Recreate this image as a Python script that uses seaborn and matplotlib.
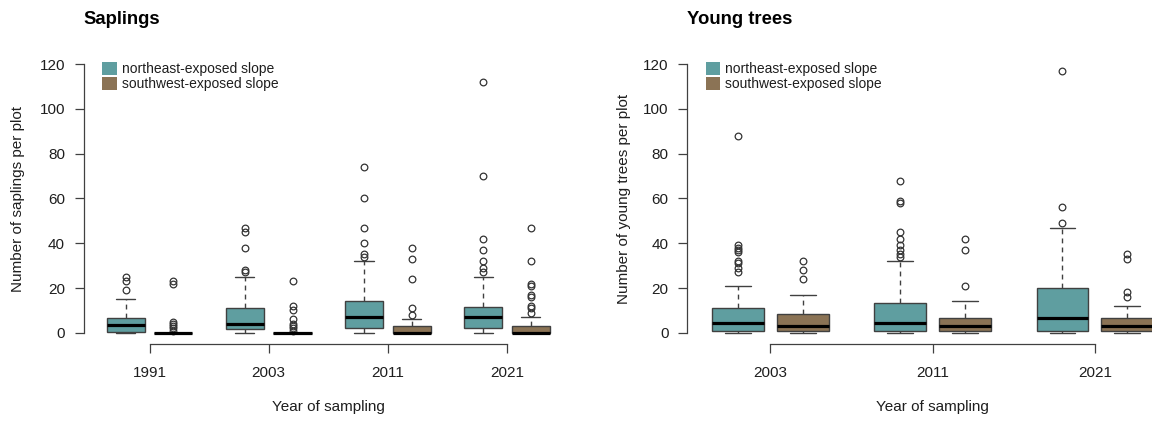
import matplotlib
matplotlib.use("Agg")
import matplotlib.pyplot as plt
import seaborn as sns
import pandas as pd
from matplotlib.patches import Patch

# ---------------- data ----------------
slopes = ["northeast-exposed slope", "southwest-exposed slope"]
slope_colors = ["#5F9EA0", "#8B7355"]

# Saplings: order NE1991, SW1991, NE2003, SW2003, NE2011, SW2011, NE2021, SW2021
sap_years = ["1991", "2003", "2011", "2021"]
sap_lo = [0, 0, 0, 0, 0, 0, 0, 0]
sap_q1 = [0.5, 0, 1.5, 0, 2, 0, 2, 0]
sap_med = [3.5, 0, 4, 0, 7, 0, 7, 0]
sap_q3 = [6.5, 0, 11, 0, 14, 3, 11.5, 3]
sap_hi = [15, 0, 25, 0, 32, 6, 25, 7]
sap_out = [
    [19, 23, 25],
    [1, 2, 3, 4, 5, 22, 23],
    [27, 28, 38, 45, 47],
    [1, 2, 3, 4, 6, 10, 12, 23],
    [34, 35, 40, 47, 60, 74],
    [8, 11, 24, 33, 38],
    [27, 29, 32, 37, 42, 70, 112],
    [9, 11, 12, 16, 17, 21, 22, 32, 47],
]

# Young trees: order NE2003, SW2003, NE2011, SW2011, NE2021, SW2021
yt_years = ["2003", "2011", "2021"]
yt_lo = [0, 0, 0, 0, 0, 0]
yt_q1 = [1, 1, 1, 1, 1, 1]
yt_med = [4.5, 3, 4.5, 3, 6.5, 3]
yt_q3 = [11.25, 8.5, 13.5, 6.5, 20, 6.5]
yt_hi = [21, 17, 32, 14, 47, 12]
yt_out = [
    [27, 29, 31, 32, 36, 37, 38, 39, 88],
    [24, 28, 32],
    [34, 35, 37, 39, 42, 45, 58, 59, 68],
    [21, 37, 42],
    [49, 56, 117],
    [16, 18, 33, 35],
]


def build_frame(years, lo, q1, med, q3, hi, out):
    """Sample values reproducing the read box statistics."""
    rows = []
    for k in range(len(lo)):
        g, s = divmod(k, 2)
        pos = 1 + 2.5 * g + s
        m = 1 + len(out[k])
        vals = [lo[k]] + [q1[k]] * m + [med[k]] * m + [q3[k]] * m + [hi[k]] + sorted(out[k])
        for v in vals:
            rows.append({"pos": pos, "count": v, "slope": slopes[s]})
    ticks = [1.5 + 2.5 * g for g in range(len(years))]
    return pd.DataFrame(rows), ticks


sap_df, sap_ticks = build_frame(sap_years, sap_lo, sap_q1, sap_med, sap_q3, sap_hi, sap_out)
yt_df, yt_ticks = build_frame(yt_years, yt_lo, yt_q1, yt_med, yt_q3, yt_hi, yt_out)

# ---------------- style ----------------
sns.set_style("ticks")
plt.rcParams["font.family"] = ["Liberation Sans", "DejaVu Sans"]

W, H = 1152, 423
fig = plt.figure(figsize=(W / 100, H / 100), dpi=100)


def axes_px(left, top, width, height):
    return fig.add_axes([left / W, 1 - (top + height) / H, width / W, height / H])


edge = "#404040"
txt = "#1e1e1e"

ax1 = axes_px(83.8, 53.5, 488.9, 290)
ax2 = axes_px(687.4, 53.5, 490.6, 290)

panels = [
    (ax1, sap_df, sap_ticks, sap_years, (0.12, 10.38), "Saplings",
     "Number of saplings per plot", 18),
    (ax2, yt_df, yt_ticks, yt_years, (0.22, 7.78), "Young trees",
     "Number of young trees per plot", 624),
]

for ax, df, ticks, years, xlim, title, ylabel, ylab_x in panels:
    sns.boxplot(
        data=df, x="pos", y="count", hue="slope", hue_order=slopes,
        palette=slope_colors, saturation=1, native_scale=True, dodge=False,
        width=0.8, whis=1.5, linecolor=edge, linewidth=1.0, legend=False,
        fliersize=4.8, ax=ax,
        flierprops={"marker": "o", "markerfacecolor": "none",
                    "markeredgecolor": "#333333", "markeredgewidth": 0.9},
        whiskerprops={"linestyle": (0, (3.5, 3)), "color": edge},
        medianprops={"color": "black", "linewidth": 2.3},
        capprops={"color": edge},
    )
    ax.set_xlim(*xlim)
    ax.set_ylim(-4.8, 124.8)
    ax.set_xticks(ticks)
    ax.set_xticklabels(years)
    ax.set_yticks(range(0, 121, 20))
    ax.set_xlabel("")
    ax.set_ylabel("")
    for sp in ("top", "right"):
        ax.spines[sp].set_visible(False)
    for sp in ("left", "bottom"):
        ax.spines[sp].set_color(edge)
        ax.spines[sp].set_linewidth(0.9)
    ax.spines["bottom"].set_bounds(ticks[0], ticks[-1])
    ax.spines["left"].set_bounds(0, 120)
    ax.tick_params(axis="both", which="major", bottom=True, left=True,
                   top=False, right=False, direction="out",
                   length=6.5, width=0.9, color=edge,
                   labelsize=11, labelcolor=txt, pad=7)
    ax.tick_params(axis="x", pad=9.5)
    ax.grid(False)

    handles = [Patch(facecolor=c, edgecolor="none", label=l)
               for c, l in zip(slope_colors, slopes)]
    ax.legend(handles=handles, loc="upper left", bbox_to_anchor=(0.038, 0.97),
              frameon=False, fontsize=10, handlelength=1.04, handleheight=1.04,
              handletextpad=0.36, labelspacing=0.05, borderpad=0,
              borderaxespad=0, labelcolor=txt)

    # titles and axis labels
    bb = ax.get_position()
    fig.text(bb.x0, 1 - 23.5 / H, title, fontsize=13.3, fontweight="bold",
             color="black", ha="left", va="baseline")
    fig.text(ylab_x / W, 1 - 198.5 / H, ylabel, fontsize=11, color=txt,
             rotation=90, ha="center", va="center")
    cx = (bb.x0 + bb.x1) / 2
    fig.text(cx, 1 - 400 / H, "Year of sampling", fontsize=11, color=txt,
             ha="center", va="top")

fig.savefig("out.png", dpi=100)
